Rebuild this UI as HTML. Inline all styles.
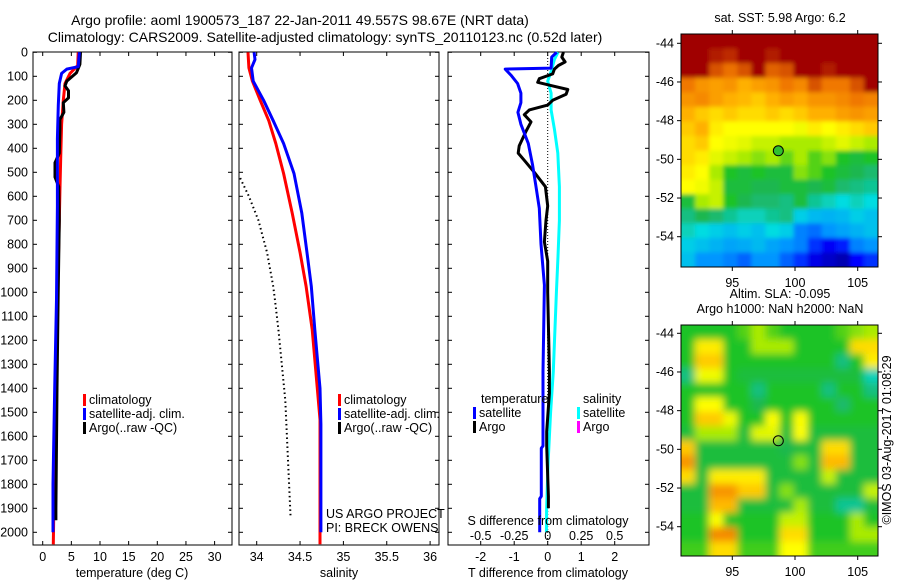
<!DOCTYPE html>
<html><head><meta charset="utf-8">
<style>
html,body{margin:0;padding:0;background:#fff;}
svg{display:block;font-family:"Liberation Sans",sans-serif;}
text{font-size:12.5px;fill:#000;}
.ttl{font-size:14px;}
</style></head>
<body>
<svg id="fig" width="900" height="580" viewBox="0 0 900 580">
<defs>
<filter id="blur1" x="-10%" y="-10%" width="120%" height="120%"><feGaussianBlur stdDeviation="2"/></filter>
<filter id="blur2" x="-10%" y="-10%" width="120%" height="120%"><feGaussianBlur stdDeviation="4"/></filter>
<clipPath id="clipTop"><rect x="681" y="34" width="197" height="233"/></clipPath>
<clipPath id="clipBot"><rect x="681" y="325" width="197" height="231"/></clipPath>
</defs>
<g id="titles">
<text class="ttl" x="300" y="25" text-anchor="middle">Argo profile: aoml 1900573_187 22-Jan-2011 49.557S 98.67E (NRT data)</text>
<text class="ttl" x="325" y="42" text-anchor="middle">Climatology: CARS2009. Satellite-adjusted climatology: synTS_20110123.nc (0.52d later)</text>
</g>
<g id="p1"></g>
<g id="p2"></g>
<g id="p3"></g>
<g id="m1"></g>
<g id="m2"></g>
<text transform="translate(891,440) rotate(-90)" text-anchor="middle">©IMOS 03-Aug-2017 01:08:29</text>
</svg>
<script>
// ---------- data ----------
const depthTicks = [0,100,200,300,400,500,600,700,800,900,1000,1100,1200,1300,1400,1500,1600,1700,1800,1900,2000];
const tempTicks = [0,5,10,15,20,25,30];
const salTicks = [34,34.5,35,35.5,36];
const tdiffTicks = [-2,-1,0,1,2];
const sdiffTicks = [-0.5,-0.25,0,0.25,0.5];

const tClimDepth = [0,55,88,130,200,300,440,580,700,1000,1400,1800,2050];
const tClimVal   = [6.2,6.1,4.76,3.9,3.6,3.3,3.14,3.0,2.9,2.6,2.3,2.0,1.85];
const tSatDepth  = [0,60,70,88,130,220,360,640,1030,1400,1800,2000];
const tSatVal    = [6.4,6.2,4.2,3.3,2.9,2.73,2.56,2.56,2.4,2.1,1.8,1.8];
const tArgoDepth = [0,50,85,120,140,160,190,210,250,280,320,420,460,520,560,700,1000,1400,1900,1950];
const tArgoVal   = [6.6,6.5,5.9,4.2,3.9,4.5,4.5,3.6,3.7,3.0,3.0,2.9,2.14,2.14,2.8,2.9,2.7,2.5,2.3,2.3];

const sClimDepth = [0,65,120,200,285,380,505,670,835,975,1155,1530,2050];
const sClimVal   = [33.9,33.91,33.95,34.04,34.14,34.22,34.31,34.41,34.5,34.57,34.64,34.73,34.73];
const sSatDepth  = [0,30,65,120,200,285,380,505,670,835,975,1155,1400,1550,2000];
const sSatVal    = [33.97,33.98,33.94,33.96,34.08,34.19,34.31,34.43,34.52,34.58,34.63,34.67,34.73,34.74,34.74];
const sArgoDepth = [524,600,700,835,975,1030,1155,1450,1930];
const sArgoVal   = [33.81,33.91,34.02,34.12,34.19,34.21,34.25,34.33,34.39];

const dTSatDepth = [0,20,66,70,95,130,170,210,250,300,380,470,560,650,800,970,1330,1640,1650,1850,1860,2000];
const dTSatVal   = [0.27,0.12,0.1,-1.27,-1.1,-0.9,-0.8,-0.8,-0.89,-0.8,-0.58,-0.45,-0.35,-0.25,-0.2,-0.1,-0.14,-0.14,-0.19,-0.19,-0.24,-0.24];
const dTArgoDepth = [0,20,40,55,70,90,110,125,140,155,175,200,220,240,260,290,330,390,420,450,500,560,640,700,790,870,1000,1330,1420,1580,1640,1850,1900];
const dTArgoVal   = [0.47,0.42,0.52,0.32,0.2,0.15,-0.25,-0.3,0.15,0.6,0.55,0.15,0,-0.55,-0.7,-0.5,-0.65,-0.85,-0.88,-0.7,-0.4,-0.07,0,-0.05,-0.1,0,0,0.05,0.05,-0.03,-0.03,0.02,0.02];
const dSSatDepth = [0,30,80,120,170,240,320,420,560,700,850,1000,1330,1500,1700,1900,2000];
const dSSatVal   = [0.077,0.05,0.025,0,0.025,0.025,0.05,0.075,0.087,0.087,0.077,0.065,0.042,0.022,0.004,-0.008,-0.01];

const latTicks = [-44,-46,-48,-50,-52,-54];
const lonTicks = [95,100,105];
const argoLon = 98.67, argoLat = -49.557;
const sstGrid = [
[1,1,1,1,1,1,1,1,1,1,1,1,1,1],
[1,1,0.97,0.95,1,1,0.97,1,1,1,1,1,1,1],
[1,1,0.9,0.86,0.9,1,0.88,0.9,1,1,0.97,1,1,1],
[0.85,0.8,0.78,0.8,0.75,0.78,0.8,0.85,0.82,0.9,0.85,0.85,0.9,1],
[0.8,0.82,0.78,0.75,0.74,0.72,0.75,0.78,0.76,0.8,0.8,0.82,0.85,0.83],
[0.75,0.72,0.7,0.72,0.7,0.7,0.72,0.7,0.72,0.75,0.75,0.78,0.8,0.78],
[0.72,0.75,0.68,0.66,0.66,0.66,0.66,0.66,0.65,0.68,0.66,0.68,0.7,0.72],
[0.7,0.72,0.66,0.65,0.64,0.62,0.62,0.6,0.6,0.6,0.62,0.64,0.62,0.6],
[0.7,0.68,0.64,0.62,0.6,0.58,0.6,0.56,0.6,0.55,0.58,0.52,0.5,0.52],
[0.68,0.66,0.6,0.52,0.5,0.52,0.5,0.5,0.58,0.55,0.52,0.5,0.48,0.46],
[0.66,0.65,0.62,0.5,0.5,0.48,0.48,0.5,0.5,0.48,0.5,0.46,0.45,0.44],
[0.5,0.6,0.62,0.52,0.48,0.46,0.46,0.45,0.5,0.44,0.42,0.4,0.42,0.4],
[0.45,0.48,0.46,0.44,0.42,0.42,0.44,0.45,0.38,0.35,0.34,0.35,0.38,0.36],
[0.42,0.4,0.38,0.36,0.38,0.36,0.4,0.38,0.28,0.26,0.3,0.32,0.34,0.36],
[0.38,0.36,0.34,0.32,0.33,0.35,0.32,0.3,0.28,0.2,0.14,0.18,0.28,0.3],
[0.36,0.3,0.3,0.28,0.25,0.3,0.3,0.25,0.2,0.12,0.08,0.05,0.15,0.2]];
const slaGrid = [
[0.52,0.52,0.52,0.52,0.55,0.6,0.55,0.52,0.52,0.52,0.52,0.55,0.58,0.6],
[0.52,0.68,0.68,0.52,0.52,0.6,0.6,0.6,0.52,0.52,0.52,0.52,0.7,0.7],
[0.52,0.72,0.72,0.52,0.52,0.52,0.52,0.52,0.52,0.52,0.52,0.45,0.52,0.68],
[0.45,0.65,0.65,0.52,0.5,0.5,0.5,0.5,0.5,0.5,0.5,0.5,0.5,0.42],
[0.52,0.52,0.52,0.52,0.52,0.45,0.52,0.52,0.52,0.52,0.45,0.52,0.52,0.45],
[0.52,0.66,0.66,0.52,0.52,0.48,0.52,0.52,0.52,0.52,0.52,0.46,0.52,0.52],
[0.52,0.72,0.72,0.65,0.52,0.52,0.66,0.52,0.66,0.52,0.52,0.52,0.52,0.52],
[0.5,0.6,0.6,0.6,0.5,0.64,0.64,0.5,0.66,0.5,0.5,0.5,0.5,0.5],
[0.72,0.5,0.5,0.5,0.5,0.5,0.5,0.48,0.5,0.5,0.7,0.7,0.5,0.5],
[0.8,0.5,0.5,0.5,0.5,0.5,0.5,0.5,0.58,0.5,0.74,0.74,0.5,0.5],
[0.7,0.5,0.68,0.68,0.68,0.68,0.5,0.5,0.5,0.5,0.62,0.5,0.5,0.5],
[0.5,0.5,0.8,0.8,0.72,0.72,0.5,0.58,0.5,0.5,0.5,0.5,0.5,0.62],
[0.5,0.5,0.74,0.74,0.5,0.5,0.5,0.5,0.6,0.5,0.5,0.44,0.44,0.5],
[0.52,0.52,0.66,0.52,0.52,0.52,0.52,0.62,0.62,0.52,0.52,0.52,0.6,0.52],
[0.52,0.52,0.82,0.82,0.52,0.52,0.52,0.7,0.7,0.52,0.52,0.52,0.6,0.6],
[0.54,0.54,0.7,0.7,0.54,0.54,0.54,0.66,0.66,0.54,0.54,0.54,0.54,0.54]];

// ---------- helpers ----------
const NS = "http://www.w3.org/2000/svg";
function mk(tag, attrs, parent){
  const e = document.createElementNS(NS, tag);
  for (const k in attrs) e.setAttribute(k, attrs[k]);
  parent.appendChild(e);
  return e;
}
const yD = d => 52.3 + d * 0.24;
const xT = t => 42.7 + t * 5.73;
const xS = s => 256.7 + (s - 34) * 86.7;
const xDT = t => 547.7 + t * 33.5;
const xDS = s => 547.7 + s * 4 * 33.5;
const mapX = lon => 732.3 + (lon - 95) * 12.54;
const mapYTop = lat => 43.3 + (-44 - lat) * 19.34;
const mapYBot = lat => 333.3 + (-44 - lat) * 19.34;

function frame(g, x0, x1, y0, y1){
  const r = mk('rect', {x:x0, y:y0, width:x1-x0, height:y1-y0, fill:'none', stroke:'#000', 'stroke-width':1}, g);
  
  
}
function profile(g, depths, vals, xf, color, name, dash, width){
  let p = '';
  depths.forEach((d,i)=>{ p += (i?'L':'M') + xf(vals[i]).toFixed(1) + ',' + yD(d).toFixed(1); });
  const a = {d:p, fill:'none', stroke:color, 'stroke-width':width||3, 'stroke-linejoin':'round'};
  if (dash) a['stroke-dasharray'] = dash;
  const e = mk('path', a, g);
  
  
}
function xTicks(g, ticks, xf, y0, y1, labelY, fmt){
  ticks.forEach(t=>{
    const x = xf(t);
    mk('line', {x1:x, x2:x, y1:y1, y2:y1-4, stroke:'#000'}, g);
    mk('line', {x1:x, x2:x, y1:y0, y2:y0+4, stroke:'#000'}, g);
    if (labelY) {
      const tx = mk('text', {x:x, y:labelY, 'text-anchor':'middle'}, g);
      tx.textContent = fmt ? fmt(t) : String(t);
      
      
    }
  });
}
function depthTicksDraw(g, x0, x1, labels){
  depthTicks.forEach(d=>{
    const y = yD(d);
    mk('line', {x1:x0, x2:x0+4, y1:y, y2:y, stroke:'#000'}, g);
    mk('line', {x1:x1, x2:x1-4, y1:y, y2:y, stroke:'#000'}, g);
    if (labels){
      const tx = mk('text', {x:28, y:y+4, 'text-anchor':'end'}, g);
      tx.textContent = String(d);
      
      
    }
  });
}
function label(g, x, y, txt, name, anchor){
  const t = mk('text', {x:x, y:y, 'text-anchor':anchor||'start'}, g);
  t.textContent = txt;
  
  
}
function legendEntry(g, x, y, color, txt){
  const r = mk('rect', {x:x, y:y-10, width:3, height:12, fill:color}, g);
  
  
  label(g, x+6, y, txt, 'legend-entry');
}
const cmStops = [[0,[0,0,140]],[0.15,[0,0,255]],[0.3,[0,150,255]],[0.4,[0,220,225]],[0.47,[30,180,90]],[0.52,[30,195,40]],[0.6,[170,235,0]],[0.66,[255,255,0]],[0.75,[255,176,0]],[0.85,[240,120,0]],[0.93,[200,60,0]],[1,[160,0,0]]];
function cmap(v){
  v = Math.max(0, Math.min(1, v));
  for (let i=1;i<cmStops.length;i++){
    if (v <= cmStops[i][0]){
      const a = cmStops[i-1], b = cmStops[i];
      const f = (v - a[0])/(b[0]-a[0]);
      const c = a[1].map((x,j)=>Math.round(x + f*(b[1][j]-x)));
      return 'rgb(' + c.join(',') + ')';
    }
  }
  return 'rgb(160,0,0)';
}

// ---------- panel 1 ----------
const p1 = document.getElementById('p1');
frame(p1, 33, 232, 52, 545);
depthTicksDraw(p1, 33, 232, true);
xTicks(p1, tempTicks, xT, 52, 545, 561);
label(p1, 132, 577, 'temperature (deg C)', 'x-axis-title', 'middle');
profile(p1, tClimDepth, tClimVal, xT, '#ff0000', 'temp-climatology-line');
profile(p1, tArgoDepth, tArgoVal, xT, '#000000', 'temp-argo-line');
profile(p1, tSatDepth, tSatVal, xT, '#0000ff', 'temp-satellite-line');
legendEntry(p1, 83, 404, '#ff0000', 'climatology');
legendEntry(p1, 83, 418, '#0000ff', 'satellite-adj. clim.');
legendEntry(p1, 83, 432, '#000000', 'Argo(..raw -QC)');

// ---------- panel 2 ----------
const p2 = document.getElementById('p2');
frame(p2, 239, 439, 52, 545);
depthTicksDraw(p2, 239, 439, false);
xTicks(p2, salTicks, xS, 52, 545, 561);
label(p2, 339, 577, 'salinity', 'x-axis-title', 'middle');
profile(p2, sArgoDepth, sArgoVal, xS, '#000000', 'sal-argo-line', '1.5,3', 2);
profile(p2, sClimDepth, sClimVal, xS, '#ff0000', 'sal-climatology-line');
profile(p2, sSatDepth, sSatVal, xS, '#0000ff', 'sal-satellite-line');
legendEntry(p2, 338, 404, '#ff0000', 'climatology');
legendEntry(p2, 338, 418, '#0000ff', 'satellite-adj. clim.');
legendEntry(p2, 338, 432, '#000000', 'Argo(..raw -QC)');
label(p2, 326, 518, 'US ARGO PROJECT', 'project-credit');
label(p2, 326, 532, 'PI: BRECK OWENS', 'pi-credit');

// ---------- panel 3 ----------
const p3 = document.getElementById('p3');
frame(p3, 448, 649, 52, 545);
depthTicksDraw(p3, 448, 649, false);
xTicks(p3, tdiffTicks, xDT, 52, 545, 561);
const zl = mk('line', {x1:xDT(0), x2:xDT(0), y1:52, y2:545, stroke:'#000', 'stroke-dasharray':'1,2'}, p3);


profile(p3, dSSatDepth, dSSatVal, xDS, '#00ffff', 'sdiff-satellite-line');
profile(p3, dTArgoDepth, dTArgoVal, xDT, '#000000', 'tdiff-argo-line');
profile(p3, dTSatDepth, dTSatVal, xDT, '#0000ff', 'tdiff-satellite-line');
sdiffTicks.forEach(s=>{
  const t = mk('text', {x:xDS(s), y:540, 'text-anchor':'middle'}, p3);
  t.textContent = String(s);
  
  
});
label(p3, 548, 525, 'S difference from climatology', 's-axis-title', 'middle');
label(p3, 548, 577, 'T difference from climatology', 't-axis-title', 'middle');
label(p3, 481, 403, 'temperature', 'legend-title-temperature');
label(p3, 583, 403, 'salinity', 'legend-title-salinity');
legendEntry(p3, 473, 417, '#0000ff', 'satellite');
legendEntry(p3, 473, 431, '#000000', 'Argo');
legendEntry(p3, 577, 417, '#00ffff', 'satellite');
legendEntry(p3, 577, 431, '#ff00ff', 'Argo');

// ---------- maps ----------
function drawMap(g, grid, y0, y1, yf, titleLines, clipId, filterId){
  const x0 = 681, x1 = 878;
  const rows = grid.length, cols = grid[0].length;
  const cw = (x1-x0)/cols, ch = (y1-y0)/rows;
  const outer = mk('g', {'clip-path':'url(#'+clipId+')'}, g);
  const cg = mk('g', {filter:'url(#'+filterId+')'}, outer);
  
  
  for (let r=-1; r<=rows; r++){
    for (let c=-1; c<=cols; c++){
      const rr = Math.max(0, Math.min(rows-1, r)), cc = Math.max(0, Math.min(cols-1, c));
      const v = grid[rr][cc];
      const e = mk('rect', {x:(x0+c*cw).toFixed(2), y:(y0+r*ch).toFixed(2), width:(cw+0.6).toFixed(2), height:(ch+0.6).toFixed(2), fill:cmap(v)}, cg);
      
      
    }
  }
  frame(g, x0, x1, y0, y1);
  latTicks.forEach(lat=>{
    const y = yf(lat);
    mk('line', {x1:x0, x2:x0-4, y1:y, y2:y, stroke:'#000'}, g);
    mk('line', {x1:x1, x2:x1+4, y1:y, y2:y, stroke:'#000'}, g);
    const t = mk('text', {x:x0-7, y:y+4, 'text-anchor':'end'}, g);
    t.textContent = String(lat);
    
    
  });
  lonTicks.forEach(lon=>{
    const x = mapX(lon);
    mk('line', {x1:x, x2:x, y1:y1, y2:y1+4, stroke:'#000'}, g);
    mk('line', {x1:x, x2:x, y1:y0, y2:y0-4, stroke:'#000'}, g);
    const t = mk('text', {x:x, y:y1+20, 'text-anchor':'middle'}, g);
    t.textContent = String(lon);
    
    
  });
  const c = mk('circle', {cx:mapX(argoLon), cy:yf(argoLat), r:5, fill:'none', stroke:'#000', 'stroke-width':1}, g);
  
  
  titleLines.forEach((tl,i)=>label(g, 780, y0 - 12 - (titleLines.length-1-i)*15, tl, 'map-title', 'middle'));
  return c;
}
const m1 = document.getElementById('m1');
const mk1 = drawMap(m1, sstGrid, 34, 267, mapYTop, ['sat. SST: 5.98 Argo: 6.2'], 'clipTop', 'blur1');
mk1.setAttribute('fill', '#30c030');
drawMap(document.getElementById('m2'), slaGrid, 325, 556, mapYBot, ['Altim. SLA: -0.095', 'Argo h1000: NaN h2000: NaN'], 'clipBot', 'blur2');
</script>
</body></html>
